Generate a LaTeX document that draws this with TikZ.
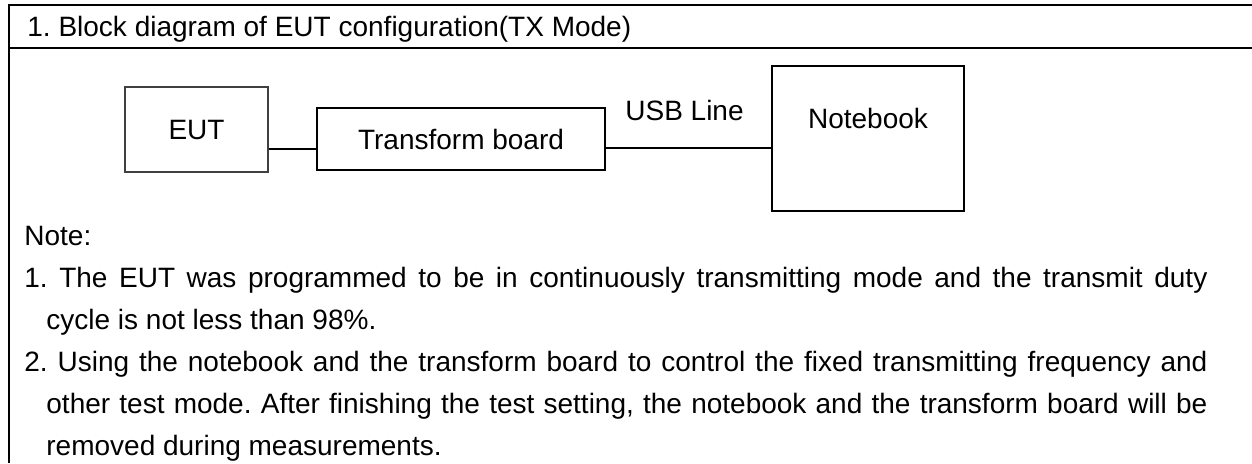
\documentclass[tikz,border=0pt]{standalone}
\usepackage{fontspec}
\setmainfont{Liberation Sans}
\usepackage{tikz}
\usetikzlibrary{calc}
\definecolor{gray700}{HTML}{404040}
\frenchspacing

\begin{document}
\begin{tikzpicture}[x=0.5pt,y=-0.5pt]
  % Styles
  \tikzset{
    unit/.style={draw, line width=0.7pt, align=center, inner sep=0pt, font=\fontsize{14pt}{17pt}\selectfont},
    frame/.style={line width=1pt},
    link/.style={line width=0.6pt},
    note/.style={inner sep=0pt, font=\fontsize{14pt}{21pt}\selectfont},
  }

  % Page frame
  \useasboundingbox (0,0) rectangle (1252,463);
  \draw[frame] (8,5) -- (1252,5);
  \draw[frame] (8,48) -- (1252,48);
  \draw[frame] (9,4) -- (9,463);

  % Title
  \node[note, anchor=base west] (title) at (27,36) {1. Block diagram of EUT configuration(TX Mode)};

  % Units
  \node[unit, draw=gray700, minimum width=71.5pt, minimum height=42.5pt] (eut) at (196.5,129.5) {EUT};
  \node[unit, minimum width=144pt, minimum height=31pt] (board) at (461,139) {Transform board};
  \node[unit, minimum width=96pt, minimum height=72.5pt, text height=10pt, text depth=20.5pt] (notebook) at (868,138.5) {Notebook};

  % Links
  \draw[link] ([yshift=-9.75pt]eut.east) -- ([yshift=-9.75pt]eut.east -| board.west);
  \draw[link] ([yshift=-4.5pt]board.east) -- ([yshift=-4.5pt]board.east -| notebook.west)
    node[note, midway, above=13.5pt, xshift=-2pt] (usb) {USB Line};

  % Notes
  \node[note, anchor=north west, text width=591.5pt, align=justify] (notes) at (24,226) {%
    Note:\par
    \hangindent=11pt\hangafter=1
    1. The EUT was programmed to be in continuously transmitting mode and the transmit duty\linebreak
    cycle is not less than 98\%.\par
    \hangindent=11pt\hangafter=1
    2. Using the notebook and the transform board to control the fixed transmitting frequency and\linebreak
    other test mode. After finishing the test setting, the notebook and the transform board will be\linebreak
    removed during measurements.\par};
\end{tikzpicture}
\end{document}
